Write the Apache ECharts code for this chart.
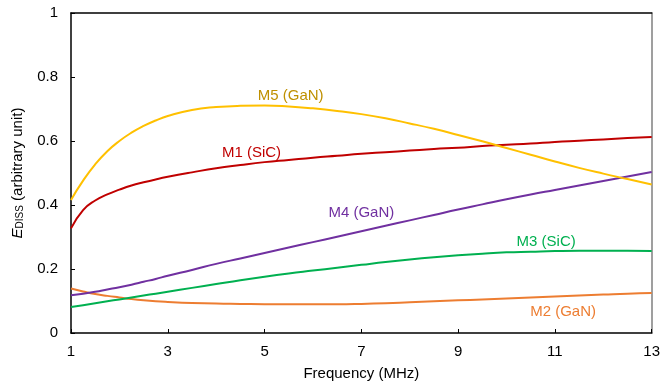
<!DOCTYPE html>
<html>
<head>
<meta charset="utf-8">
<script src="https://cdn.jsdelivr.net/npm/echarts@6/dist/echarts.min.js"></script>
<style>
html,body{margin:0;padding:0;background:#fff;}
#chart{width:663px;height:386px;}
</style>
</head>
<body>
<div id="chart"></div>
<script>
// Frequency sample points (MHz)
var freqs = [1, 1.25, 1.5, 1.75, 2, 2.25, 2.5, 2.75, 3, 3.5, 4, 4.5, 5, 5.5, 6, 6.5, 7, 7.5, 8, 8.5, 9, 9.5, 10, 10.5, 11, 11.5, 12, 12.5, 13];
// Series values (E_DISS, arbitrary unit)
var m1SiC = [0.327, 0.384, 0.414, 0.433, 0.448, 0.461, 0.471, 0.480, 0.488, 0.502, 0.515, 0.525, 0.534, 0.541, 0.548, 0.554, 0.560, 0.565, 0.570, 0.575, 0.579, 0.584, 0.588, 0.592, 0.597, 0.601, 0.605, 0.609, 0.6125];
var m2GaN = [0.139, 0.130, 0.122, 0.116, 0.111, 0.106, 0.102, 0.099, 0.097, 0.094, 0.092, 0.091, 0.090, 0.090, 0.090, 0.090, 0.091, 0.093, 0.096, 0.099, 0.102, 0.105, 0.108, 0.111, 0.114, 0.117, 0.120, 0.123, 0.125];
var m3SiC = [0.081, 0.087, 0.093, 0.099, 0.105, 0.111, 0.117, 0.123, 0.129, 0.141, 0.153, 0.165, 0.176, 0.186, 0.195, 0.204, 0.213, 0.222, 0.230, 0.237, 0.243, 0.248, 0.252, 0.254, 0.256, 0.257, 0.257, 0.257, 0.256];
var m4GaN = [0.118, 0.123, 0.129, 0.136, 0.143, 0.151, 0.160, 0.169, 0.179, 0.197, 0.216, 0.233, 0.250, 0.267, 0.284, 0.301, 0.318, 0.335, 0.352, 0.369, 0.386, 0.402, 0.418, 0.433, 0.447, 0.461, 0.475, 0.489, 0.503];
var m5GaN = [0.416, 0.476, 0.527, 0.568, 0.600, 0.626, 0.647, 0.664, 0.678, 0.697, 0.706, 0.710, 0.711, 0.708, 0.702, 0.694, 0.684, 0.671, 0.655, 0.638, 0.619, 0.599, 0.578, 0.557, 0.536, 0.516, 0.498, 0.481, 0.464];
// Tick labels
var xTicks = [1, 3, 5, 7, 9, 11, 13];
var yTicks = [0, 0.2, 0.4, 0.6, 0.8, 1];
// Series names and in-plot label anchor positions (data coords)
var seriesNames = ['M1 (SiC)', 'M2 (GaN)', 'M3 (SiC)', 'M4 (GaN)', 'M5 (GaN)'];
var labelAt = [[4.73, 0.563], [11.17, 0.066], [10.82, 0.284], [7.0, 0.376], [5.54, 0.741]];

var values = [m1SiC, m2GaN, m3SiC, m4GaN, m5GaN];
var lineColors = ['#C00000', '#ED7D31', '#00B050', '#7030A0', '#FFC000'];
var textColors = ['#C00000', '#ED7D31', '#00B050', '#7030A0', '#BF9000'];

function pairs(arr) { return freqs.map(function (f, i) { return [f, arr[i]]; }); }

var FONT = 'Liberation Sans, Arial, sans-serif';

var series = values.map(function (arr, k) {
  return {
    name: seriesNames[k],
    type: 'line',
    data: pairs(arr),
    smooth: 0.5,
    showSymbol: false,
    symbol: 'none',
    lineStyle: { color: lineColors[k], width: 2 },
    itemStyle: { color: lineColors[k] },
    silent: true,
    markPoint: {
      symbol: 'circle',
      symbolSize: 0,
      silent: true,
      data: [{ name: seriesNames[k], coord: labelAt[k] }],
      label: {
        show: true,
        position: 'inside',
        formatter: '{b}',
        color: textColors[k],
        fontSize: 15,
        fontFamily: FONT
      }
    }
  };
});

var chart = echarts.init(document.getElementById('chart'), null, { renderer: 'canvas' });
chart.setOption({
  animation: false,
  backgroundColor: '#fff',
  grid: { left: 71, right: 9, top: 13, bottom: 53, containLabel: false },
  xAxis: [{
    type: 'value',
    min: 1, max: 13,
    name: 'Frequency (MHz)',
    nameLocation: 'middle',
    nameGap: 33,
    nameTextStyle: { fontSize: 15, color: '#000', fontFamily: FONT },
    axisLine: { show: true, onZero: false, lineStyle: { color: '#000', width: 1.5 } },
    axisTick: { show: true, inside: true, length: 4, customValues: xTicks, lineStyle: { color: '#000', width: 1 } },
    axisLabel: { show: true, customValues: xTicks, margin: 11, fontSize: 15, color: '#000', fontFamily: FONT },
    splitLine: { show: false }
  }, {
    type: 'value',
    position: 'top',
    min: 1, max: 13,
    axisLine: { show: true, onZero: false, lineStyle: { color: '#000', width: 1.5 } },
    axisTick: { show: false },
    axisLabel: { show: false },
    splitLine: { show: false }
  }],
  yAxis: [{
    type: 'value',
    min: 0, max: 1, interval: 0.2,
    name: '{i|E}{s|DISS}{n| (arbitrary unit)}',
    nameLocation: 'middle',
    nameRotate: 90,
    nameGap: 46,
    nameTextStyle: {
      fontFamily: FONT,
      color: '#000',
      rich: {
        i: { fontSize: 15, fontStyle: 'italic', fontFamily: FONT, color: '#000', verticalAlign: 'bottom', lineHeight: 18 },
        s: { fontSize: 10, fontFamily: FONT, color: '#000', verticalAlign: 'bottom', lineHeight: 14 },
        n: { fontSize: 15, fontFamily: FONT, color: '#000', verticalAlign: 'bottom', lineHeight: 18 }
      }
    },
    axisLine: { show: true, lineStyle: { color: '#000', width: 1.5 } },
    axisTick: { show: true, inside: true, length: 4, lineStyle: { color: '#000', width: 1 } },
    axisLabel: {
      margin: 13, fontSize: 15, color: '#000', fontFamily: FONT,
      formatter: function (v) { return String(Math.round(v * 10) / 10); }
    },
    splitLine: { show: false }
  }, {
    type: 'value',
    position: 'right',
    min: 0, max: 1,
    axisLine: { show: true, lineStyle: { color: '#7F7F7F', width: 1.5 } },
    axisTick: { show: false },
    axisLabel: { show: false },
    splitLine: { show: false }
  }],
  series: series
});
</script>
</body>
</html>
